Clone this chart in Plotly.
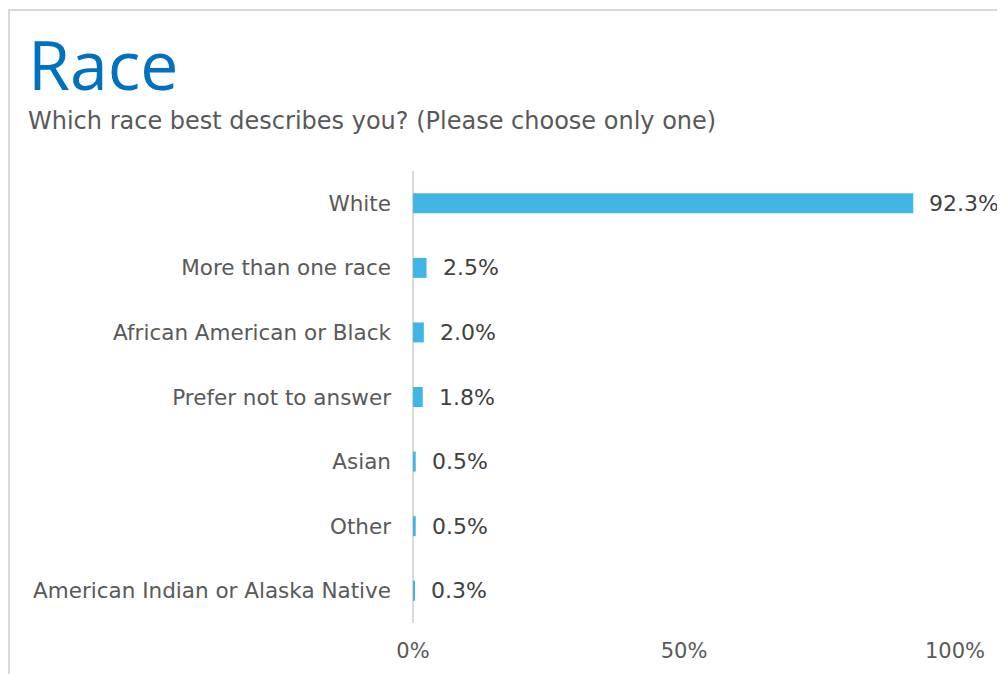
import plotly.graph_objects as go

categories = ["White", "More than one race", "African American or Black",
              "Prefer not to answer", "Asian", "Other",
              "American Indian or Alaska Native"]
values = [92.3, 2.5, 2.0, 1.8, 0.5, 0.5, 0.3]
value_labels = ["92.3%", "2.5%", "2.0%", "1.8%", "0.5%", "0.5%", "0.3%"]
tick_vals = [0, 50, 100]
tick_text = ["0%", "50%", "100%"]

# page has an 8px body margin; design in screen pixels, shift by OFF
OFF = 8
W, H = 1005 - OFF, 674 - OFF
L, R, T, B = 413 - OFF, 50, 171 - OFF, 51

fig = go.Figure()
fig.add_trace(go.Bar(
    y=categories, x=values, orientation="h",
    marker=dict(color="#41B6E6", line=dict(width=0)),
    hoverinfo="skip",
))

for c, v, t in zip(categories, values, value_labels):
    fig.add_annotation(x=v, y=c, text=t, showarrow=False, xanchor="left",
                       xshift=14, font=dict(family="DejaVu Sans", size=22, color="#404040"))

def px_x(p):
    return (p - OFF - L) / (W - L - R)

def px_y(p):
    return (H - B - (p - OFF)) / (H - T - B)

border = "#d9d9d9"
fig.add_shape(type="line", xref="paper", yref="paper",
              x0=px_x(8), x1=px_x(1010), y0=px_y(10), y1=px_y(10),
              line=dict(color=border, width=2))
fig.add_shape(type="line", xref="paper", yref="paper",
              x0=px_x(9), x1=px_x(9), y0=px_y(10), y1=px_y(680),
              line=dict(color=border, width=2))

fig.add_annotation(xref="paper", yref="paper", x=px_x(26), y=px_y(64),
                   xanchor="left", yanchor="middle", showarrow=False,
                   text="Race", font=dict(family="Open Sans", size=68, color="#0070C0"))
fig.add_annotation(xref="paper", yref="paper", x=px_x(26), y=px_y(121),
                   xanchor="left", yanchor="middle", showarrow=False,
                   text="Which race best describes you? (Please choose only one)",
                   font=dict(family="DejaVu Sans", size=24, color="#595959"))

fig.update_layout(
    width=W, height=H,
    margin=dict(l=L, r=R, t=T, b=B),
    paper_bgcolor="white", plot_bgcolor="white",
    showlegend=False, bargap=0.69,
    font=dict(family="DejaVu Sans", color="#595959"),
    xaxis=dict(range=[0, 100], tickvals=tick_vals, ticktext=tick_text,
               showgrid=False, zeroline=True, zerolinecolor="#d9d9d9",
               zerolinewidth=2, showline=False, ticks="",
               tickfont=dict(size=21, color="#595959"), ticklabelstandoff=13,
               fixedrange=True),
    yaxis=dict(autorange="reversed", showgrid=False, zeroline=False,
               showline=False, ticks="", ticklabelstandoff=21,
               tickfont=dict(size=21.5, color="#595959"), fixedrange=True),
)

fig.write_html("out.html")
